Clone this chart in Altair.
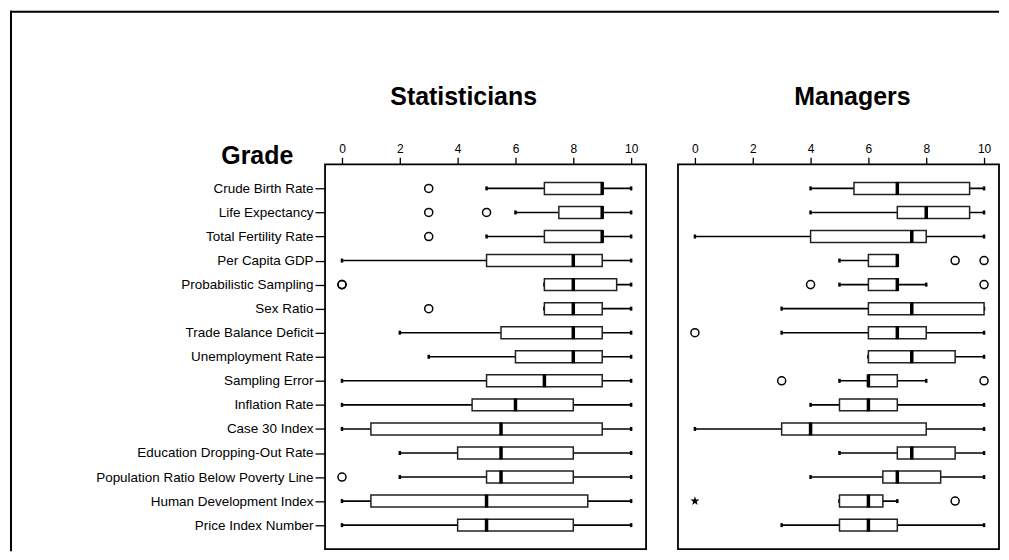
import altair as alt
import pandas as pd

variables = [
    "Crude Birth Rate", "Life Expectancy\u00a0", "Total Fertility Rate", "Per Capita GDP",
    "Probabilistic Sampling", "Sex Ratio", "Trade Balance Deficit", "Unemployment Rate",
    "Sampling Error", "Inflation Rate", "Case 30 Index", "Education Dropping-Out Rate",
    "Population Ratio Below Poverty Line", "Human Development Index", "Price Index Number",
]

# Statisticians: whisker low, Q1, median, Q3, whisker high
stat_low = [5, 6, 5, 0, 7, 7, 2, 3, 0, 0, 0, 2, 2, 0, 0]
stat_q1 = [7, 7.5, 7, 5, 7, 7, 5.5, 6, 5, 4.5, 1, 4, 5, 1, 4]
stat_med = [9, 9, 9, 8, 8, 8, 8, 8, 7, 6, 5.5, 5.5, 5.5, 5, 5]
stat_q3 = [9, 9, 9, 9, 9.5, 9, 9, 9, 9, 8, 9, 8, 8, 8.5, 8]
stat_high = [10, 10, 10, 10, 10, 10, 10, 10, 10, 10, 10, 10, 10, 10, 10]
stat_out_var = ["Crude Birth Rate", "Life Expectancy\u00a0", "Life Expectancy\u00a0", "Total Fertility Rate",
                "Probabilistic Sampling", "Probabilistic Sampling", "Sex Ratio",
                "Population Ratio Below Poverty Line"]
stat_out_val = [3, 3, 5, 3, 0, 0, 3, 0]
stat_ext_var = []
stat_ext_val = []

# Managers
mgr_low = [4, 4, 0, 5, 5, 3, 3, 6, 5, 4, 0, 5, 4, 5, 3]
mgr_q1 = [5.5, 7, 4, 6, 6, 6, 6, 6, 6, 5, 3, 7, 6.5, 5, 5]
mgr_med = [7, 8, 7.5, 7, 7, 7.5, 7, 7.5, 6, 6, 4, 7.5, 7, 6, 6]
mgr_q3 = [9.5, 9.5, 8, 7, 7, 10, 8, 9, 7, 7, 8, 9, 8.5, 6.5, 7]
mgr_high = [10, 10, 10, 7, 8, 10, 10, 10, 8, 10, 10, 10, 10, 7, 10]
mgr_out_var = ["Per Capita GDP", "Per Capita GDP", "Probabilistic Sampling", "Probabilistic Sampling",
               "Trade Balance Deficit", "Sampling Error", "Sampling Error", "Human Development Index"]
mgr_out_val = [9, 10, 4, 10, 0, 3, 10, 9]
mgr_ext_var = ["Human Development Index"]
mgr_ext_val = [0]

tick_values = [0, 2, 4, 6, 8, 10]
panel_titles = ["Statisticians", "Managers"]
y_title = "Grade"

STAR = ("M0,-1L0.2245,-0.309L0.951,-0.309L0.363,0.118L0.588,0.809L0,0.382"
        "L-0.588,0.809L-0.363,0.118L-0.951,-0.309L-0.2245,-0.309Z")

W, H = 322, 386
FONT = "Liberation Sans"


def xenc(field):
    return alt.X(f"{field}:Q",
                 scale=alt.Scale(domain=[-0.586, 10.517], nice=False, zero=False),
                 axis=alt.Axis(orient="top", values=tick_values, title=None, format="d",
                               tickSize=7, labelPadding=2, labelFontSize=12, labelFont=FONT,
                               domain=False, grid=False, tickColor="black", tickWidth=1.3,
                               labelColor="black"))


def panel(low, q1, med, q3, high, out_var, out_val, ext_var, ext_val, show_y, title, title_x):
    df = pd.DataFrame({"variable": variables, "low": low, "q1": q1, "median": med,
                       "q3": q3, "high": high})
    if show_y:
        yax = alt.Axis(title=None, tickSize=10, labelPadding=2, labelFontSize=13.5, labelFont=FONT,
                       domain=False, grid=False, tickColor="black", tickWidth=1.3,
                       labelColor="black", labelLimit=400)
    else:
        yax = None
    yenc = alt.Y("variable:N", sort=variables,
                 scale=alt.Scale(type="point", padding=1.32), axis=yax)

    base = alt.Chart(df)
    whisk = base.mark_rule(color="black", strokeWidth=1.6).encode(x=xenc("low"), x2="high", y=yenc)
    cap_lo = base.mark_tick(color="black", orient="vertical", size=4, thickness=2.5, opacity=1).encode(
        x=xenc("low"), y=yenc)
    cap_hi = base.mark_tick(color="black", orient="vertical", size=4, thickness=2.5, opacity=1).encode(
        x=xenc("high"), y=yenc)
    box = base.mark_bar(height=12, fill="white", stroke="#222222", strokeWidth=1.5).encode(
        x=xenc("q1"), x2="q3", y=yenc)
    medt = base.mark_tick(color="black", orient="vertical", size=13, thickness=3.5, opacity=1).encode(
        x=xenc("median"), y=yenc)
    layers = [whisk, cap_lo, cap_hi, box, medt]

    if out_var:
        odf = pd.DataFrame({"variable": out_var, "value": out_val})
        layers.append(alt.Chart(odf).mark_point(shape="circle", filled=False, size=65,
                                                 stroke="black", strokeWidth=1.5, opacity=1).encode(
            x=xenc("value"), y=yenc))
    if ext_var:
        edf = pd.DataFrame({"variable": ext_var, "value": ext_val})
        layers.append(alt.Chart(edf).mark_point(shape=STAR, filled=True, size=90,
                                                 color="black", opacity=1).encode(
            x=xenc("value"), y=yenc))

    tdf = pd.DataFrame({"t": [title]})
    layers.append(alt.Chart(tdf).mark_text(font=FONT, fontSize=25, fontWeight="bold",
                                           align="center", baseline="alphabetic", color="black").encode(
        text="t:N", x=alt.value(title_x), y=alt.value(-60)))

    if show_y:
        gdf = pd.DataFrame({"t": [y_title]})
        layers.append(alt.Chart(gdf).mark_text(font=FONT, fontSize=25, fontWeight="bold",
                                               align="center", baseline="alphabetic", color="black").encode(
            text="t:N", x=alt.value(-68), y=alt.value(0)))
        fdf = pd.DataFrame({"k": [1]})
        layers.append(alt.Chart(fdf).mark_rule(color="black", strokeWidth=2).encode(
            x=alt.value(-315), y=alt.value(-154), y2=alt.value(388)))
        layers.append(alt.Chart(fdf).mark_rule(color="black", strokeWidth=2).encode(
            x=alt.value(-316), x2=alt.value(676), y=alt.value(-153)))

    return alt.layer(*layers).properties(width=W, height=H)


left = panel(stat_low, stat_q1, stat_med, stat_q3, stat_high, stat_out_var, stat_out_val,
             stat_ext_var, stat_ext_val, True, panel_titles[0], 139)
right = panel(mgr_low, mgr_q1, mgr_med, mgr_q3, mgr_high, mgr_out_var, mgr_out_val,
              mgr_ext_var, mgr_ext_val, False, panel_titles[1], 175)

chart = alt.hconcat(left, right, spacing=32, bounds="flush").properties(
    padding=0, background="white"
).configure_view(stroke="black", strokeWidth=1.8)

chart.save("out.html", embed_options={"renderer": "svg", "actions": False})
